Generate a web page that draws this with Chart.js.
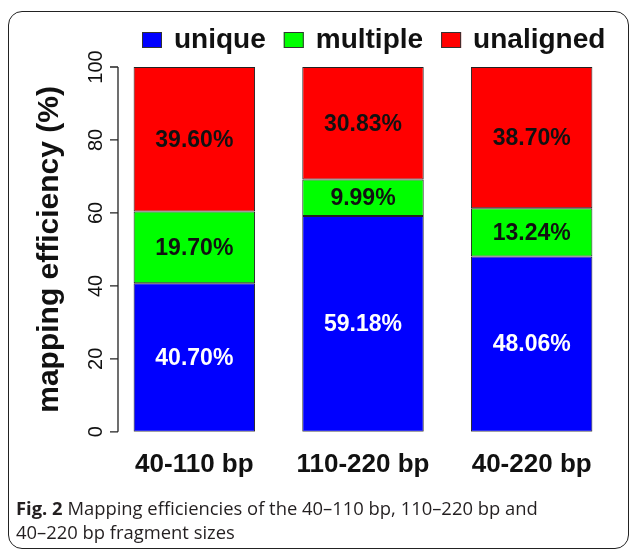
<!DOCTYPE html>
<html>
<head>
<meta charset="utf-8">
<script src="https://cdn.jsdelivr.net/npm/chart.js@4.4.1/dist/chart.umd.min.js"></script>
<style>
  body { margin: 0; background: #fff; width: 629px; height: 550px; overflow: hidden; position: relative; }
  #frame { position: absolute; left: 8px; top: 11px; width: 621px; height: 538px; box-sizing: border-box;
           border: 1.5px solid #222; border-radius: 14px; }
  #wrap { position: absolute; left: 0; top: 0; width: 629px; height: 509px; }
  #caption { position: absolute; left: 16px; top: 496px; font-family: "Open Sans", sans-serif; font-size: 18.4px;
             line-height: 24px; color: #231f20; }
</style>
</head>
<body>
<div id="frame"></div>
<div id="wrap"><canvas id="chart"></canvas></div>
<div id="caption"><b>Fig. 2</b> Mapping efficiencies of the 40–110 bp, 110–220 bp and<br>40–220 bp fragment sizes</div>
<script>
const categories = ['40-110 bp', '110-220 bp', '40-220 bp'];
const uniqueVals = [40.70, 59.18, 48.06];
const multipleVals = [19.70, 9.99, 13.24];
const unalignedVals = [39.60, 30.83, 38.70];
const yTicks = [0, 20, 40, 60, 80, 100];

const FONT = '"Liberation Sans", Arial, sans-serif';

// percent labels in the middle of every segment
const segmentLabels = {
  id: 'segmentLabels',
  afterDatasetsDraw(chart) {
    const ctx = chart.ctx;
    ctx.save();
    ctx.font = 'bold 23px ' + FONT;
    ctx.textAlign = 'center';
    ctx.textBaseline = 'middle';
    chart.data.datasets.forEach((ds, i) => {
      const meta = chart.getDatasetMeta(i);
      ctx.fillStyle = i === 0 ? '#fff' : '#111';
      meta.data.forEach((bar, j) => {
        const p = bar.getProps(['x', 'y', 'base'], true);
        ctx.fillText(ds.data[j].toFixed(2) + '%', p.x, (p.y + p.base) / 2 + 1);
      });
    });
    ctx.restore();
  }
};

// R style y axis: line only over the data range, rotated labels
const rAxis = {
  id: 'rAxis',
  afterDraw(chart) {
    const ctx = chart.ctx;
    const ys = chart.scales.y;
    const x0 = 118;
    ctx.save();
    ctx.strokeStyle = '#222';
    ctx.lineWidth = 1.3;
    ctx.beginPath();
    ctx.moveTo(x0, ys.getPixelForValue(yTicks[0]));
    ctx.lineTo(x0, ys.getPixelForValue(yTicks[yTicks.length - 1]));
    yTicks.forEach(t => {
      const py = ys.getPixelForValue(t);
      ctx.moveTo(x0 - 8, py);
      ctx.lineTo(x0, py);
    });
    ctx.stroke();

    ctx.fillStyle = '#111';
    ctx.textAlign = 'center';
    ctx.textBaseline = 'middle';
    ctx.font = '20px ' + FONT;
    yTicks.forEach(t => {
      ctx.save();
      ctx.translate(96, ys.getPixelForValue(t));
      ctx.rotate(-Math.PI / 2);
      ctx.fillText(String(t), 0, 0);
      ctx.restore();
    });

    ctx.font = 'bold 30px ' + FONT;
    ctx.translate(50, (chart.chartArea.top + chart.chartArea.bottom) / 2);
    ctx.rotate(-Math.PI / 2);
    ctx.fillText('mapping efficiency (%)', 0, 0);
    ctx.restore();
  }
};

// legend row on top
const topLegend = {
  id: 'topLegend',
  afterDraw(chart) {
    const ctx = chart.ctx;
    ctx.save();
    ctx.font = 'bold 28px ' + FONT;
    ctx.textBaseline = 'middle';
    let x = 142;
    chart.data.datasets.forEach(ds => {
      ctx.fillStyle = ds.backgroundColor;
      ctx.fillRect(x, 32, 20, 16);
      ctx.strokeStyle = '#333';
      ctx.lineWidth = 1;
      ctx.strokeRect(x + 0.5, 32.5, 19, 15);
      x += 32;
      ctx.fillStyle = '#111';
      ctx.fillText(ds.label, x, 40);
      x += ctx.measureText(ds.label).width + 18;
    });
    ctx.restore();
  }
};

const barStyle = { borderColor: '#222', borderWidth: 1, borderSkipped: false,
                   categoryPercentage: 1, barPercentage: 0.72 };

new Chart(document.getElementById('chart'), {
  type: 'bar',
  data: {
    labels: categories,
    datasets: [
      { label: 'unique', data: uniqueVals, backgroundColor: '#0000ff', ...barStyle },
      { label: 'multiple', data: multipleVals, backgroundColor: '#00ff00', ...barStyle },
      { label: 'unaligned', data: unalignedVals, backgroundColor: '#ff0000', ...barStyle }
    ]
  },
  options: {
    responsive: true,
    maintainAspectRatio: false,
    animation: false,
    layout: { padding: { left: 110, right: 13, top: 67, bottom: 12 } },
    plugins: { legend: { display: false }, tooltip: { enabled: false } },
    scales: {
      x: {
        stacked: true,
        grid: { display: false, drawTicks: false },
        border: { display: false },
        ticks: { color: '#111', padding: 17, font: { family: FONT, size: 26, weight: 'bold' } }
      },
      y: { stacked: true, display: false, min: 0, max: 100 }
    }
  },
  plugins: [segmentLabels, rAxis, topLegend]
});
</script>
</body>
</html>
